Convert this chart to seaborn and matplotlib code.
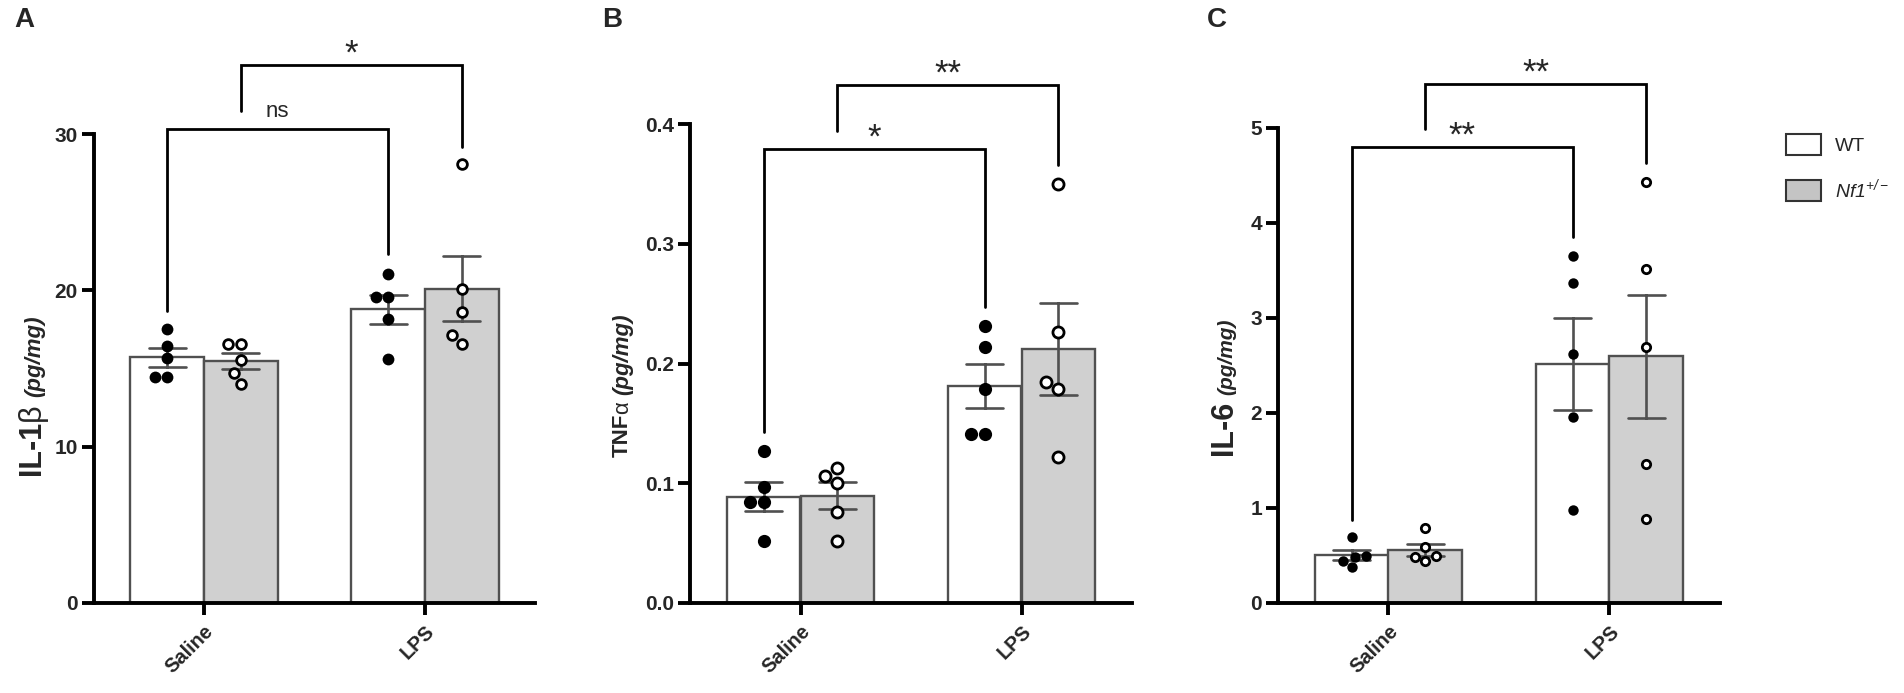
import numpy as np
import pandas as pd
import matplotlib
matplotlib.use("Agg")
import matplotlib.pyplot as plt
import seaborn as sns
from matplotlib.patches import Patch
from matplotlib.transforms import IdentityTransform

# ---------------- data ----------------
conditions = ["Saline", "LPS"]
genotypes = ["WT", "Nf1"]
legend_labels = ["WT", r"$\mathit{Nf1}^{+/-}$"]

il1b_saline_wt = [17.55, 16.47, 15.70, 14.43, 14.43]
il1b_saline_nf1 = [16.55, 16.55, 15.56, 14.70, 14.00]
il1b_lps_wt = [21.05, 19.60, 19.60, 18.15, 15.60]
il1b_lps_nf1 = [28.10, 20.07, 18.64, 17.15, 16.60]

tnfa_saline_wt = [0.127, 0.097, 0.084, 0.084, 0.052]
tnfa_saline_nf1 = [0.113, 0.1065, 0.100, 0.076, 0.052]
tnfa_lps_wt = [0.231, 0.214, 0.179, 0.141, 0.141]
tnfa_lps_nf1 = [0.350, 0.226, 0.185, 0.1785, 0.122]

il6_saline_wt = [0.698, 0.498, 0.487, 0.445, 0.382]
il6_saline_nf1 = [0.786, 0.586, 0.495, 0.487, 0.442]
il6_lps_wt = [3.653, 3.365, 2.621, 1.955, 0.979]
il6_lps_nf1 = [4.428, 3.512, 2.691, 1.460, 0.881]

il1b_ticks = [0, 10, 20, 30]
tnfa_ticks = [0.0, 0.1, 0.2, 0.3, 0.4]
il6_ticks = [0, 1, 2, 3, 4, 5]

# brackets: (group a, group b, bar height, left end, right end, label)
il1b_brackets = [(0, 3, 30.3, 18.7, 22.3, "ns"), (1, 4, 34.4, 31.5, 29.2, "*")]
tnfa_brackets = [(0, 3, 0.379, 0.143, 0.247, "*"), (1, 4, 0.4325, 0.3946, 0.366, "**")]
il6_brackets = [(0, 3, 4.797, 0.876, 3.856, "**"), (1, 4, 5.46, 4.99, 4.63, "**")]

# ---------------- style ----------------
sns.set_style("ticks")
plt.rcParams["font.family"] = ["Liberation Sans", "DejaVu Sans"]
plt.rcParams["mathtext.fontset"] = "custom"
plt.rcParams["mathtext.rm"] = "Liberation Sans:italic"
plt.rcParams["mathtext.it"] = "Liberation Sans:italic"
plt.rcParams["mathtext.bf"] = "Liberation Sans:bold"

W, H, DPI = 1904, 693, 100
fig = plt.figure(figsize=(W / DPI, H / DPI), dpi=DPI)

GRAY = "#d0d0d0"
EDGE = "#505050"
order = ["Saline|WT", "Saline|Nf1", "gap", "LPS|WT", "LPS|Nf1"]


def make_df(sw, sn, lw, ln):
    rows = []
    for cond, geno, vals in [("Saline", "WT", sw), ("Saline", "Nf1", sn),
                             ("LPS", "WT", lw), ("LPS", "Nf1", ln)]:
        for v in vals:
            rows.append({"cond": cond, "geno": geno, "group": f"{cond}|{geno}", "val": v})
    return pd.DataFrame(rows)


panels = [
    dict(df=make_df(il1b_saline_wt, il1b_saline_nf1, il1b_lps_wt, il1b_lps_nf1),
         ticks=il1b_ticks, fmt="{:.0f}", top=36.66, left=93.5, size=8.5,
         brackets=il1b_brackets, letter="A", letter_x=14,
         label=[("IL-1", 22, "normal", "bold", 0), ("β", 22, "normal", "normal", 0),
                ("(pg/mg)", 16, "italic", "bold", 6)],
         label_x=40, label_y=218),
    dict(df=make_df(tnfa_saline_wt, tnfa_saline_nf1, tnfa_lps_wt, tnfa_lps_nf1),
         ticks=tnfa_ticks, fmt="{:.1f}", top=0.4787, left=690, size=9.5,
         brackets=tnfa_brackets, letter="B", letter_x=602,
         label=[("TNF", 16, "normal", "bold", 0), ("α", 16, "normal", "normal", 0),
                ("(pg/mg)", 16, "italic", "bold", 6)],
         label_x=628, label_y=236),
    dict(df=make_df(il6_saline_wt, il6_saline_nf1, il6_lps_wt, il6_lps_nf1),
         ticks=il6_ticks, fmt="{:.0f}", top=6.03, left=1278, size=7.5,
         brackets=il6_brackets, letter="C", letter_x=1207,
         label=[("IL-6", 22, "normal", "bold", 0), ("(pg/mg)", 15, "italic", "bold", 6)],
         label_x=1232, label_y=238),
]

for p in panels:
    ax = fig.add_axes([p["left"] / W, 90 / H, 442 / W, 573 / H])
    df = p["df"]
    sns.barplot(data=df, x="group", y="val", hue="geno", order=order,
                hue_order=genotypes, palette={"WT": "white", "Nf1": GRAY},
                dodge=False, width=1.0, errorbar="se", capsize=0.5,
                err_kws={"color": EDGE, "linewidth": 1.9},
                edgecolor=EDGE, linewidth=1.7, legend=False, ax=ax)
    sns.swarmplot(data=df[df.geno == "WT"], x="group", y="val", order=order,
                  color="black", size=p["size"], ax=ax, legend=False)
    sns.swarmplot(data=df[df.geno == "Nf1"], x="group", y="val", order=order,
                  color="white", edgecolor="black", linewidth=2.0,
                  size=p["size"] - 1.5, ax=ax, legend=False)
    for ln in ax.lines:
        ln.set_zorder(3)

    ax.set_xlim(-1.0, 5.0)
    ax.set_ylim(0, p["top"])
    cond_pos = [np.mean([i for i, g in enumerate(order) if g.startswith(c + "|")])
                for c in conditions]
    ax.set_xticks(cond_pos, conditions)
    ax.set_yticks(p["ticks"], [p["fmt"].format(t) for t in p["ticks"]])
    ax.set_xlabel("")
    ax.set_ylabel("")
    for s in ["top", "right"]:
        ax.spines[s].set_visible(False)
    ax.spines["left"].set_bounds(0, p["ticks"][-1])
    for s in ["left", "bottom"]:
        ax.spines[s].set_linewidth(2.8)
        ax.spines[s].set_color("black")
    ax.tick_params(axis="both", width=2.8, length=8.5, color="black")
    ax.tick_params(axis="y", labelsize=15, pad=3)
    ax.tick_params(axis="x", labelsize=14.5, pad=5)
    for lbl in ax.get_yticklabels():
        lbl.set_fontweight("bold")
    for lbl in ax.get_xticklabels():
        lbl.set_fontweight("bold")
        lbl.set_rotation(45)
        lbl.set_ha("right")
        lbl.set_rotation_mode("anchor")

    for a, b, y, yl, yr, txt in p["brackets"]:
        ax.plot([a, a, b, b], [yl, y, y, yr], color="black", lw=2.0,
                clip_on=False, solid_joinstyle="miter", zorder=4)
        if txt == "ns":
            ax.annotate(txt, xy=((a + b) / 2, y), xytext=(0, 9), textcoords="offset points",
                        ha="center", va="baseline", fontsize=16, annotation_clip=False)
        else:
            ax.annotate(txt, xy=((a + b) / 2, y), xytext=(0, 1), textcoords="offset points",
                        ha="center", va="baseline", fontsize=25, annotation_clip=False)

    fig.text(p["letter_x"] / W, 1 - 7 / H, p["letter"], ha="left", va="top",
             fontsize=20, fontweight="bold")

# rotated y labels made of several pieces
fig.canvas.draw()
for p in panels:
    y = p["label_y"]
    for text, size, style, weight, gap in p["label"]:
        y += gap
        t = fig.text(p["label_x"], y, text, transform=IdentityTransform(), rotation=90,
                     rotation_mode="anchor", ha="left", va="baseline", fontsize=size,
                     fontstyle=style, fontweight=weight)
        fig.canvas.draw()
        y = t.get_window_extent().y1

handles = [Patch(facecolor="white", edgecolor="#333333", linewidth=1.5, label=legend_labels[0]),
           Patch(facecolor="#c4c4c4", edgecolor="#333333", linewidth=1.5, label=legend_labels[1])]
fig.legend(handles=handles, loc="upper left", bbox_to_anchor=(1786 / W, 1 - 134 / H),
           frameon=False, fontsize=14, handlelength=35 / 19.4, handleheight=25 / 19.4,
           labelspacing=22 / 19.4, handletextpad=14 / 19.4, borderpad=0, borderaxespad=0)

fig.savefig("out.png", dpi=DPI)
